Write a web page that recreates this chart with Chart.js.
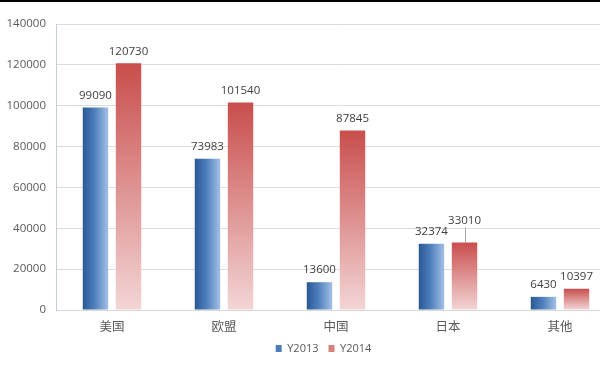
<!DOCTYPE html>
<html>
<head>
<meta charset="utf-8">
<script src="https://cdn.jsdelivr.net/npm/chart.js@4"></script>
<style>
  html, body { margin: 0; padding: 0; background: #fff; }
  #wrap { position: relative; width: 600px; height: 371px; overflow: hidden; }
  #wrap .topline { position: absolute; left: 0; top: 0; width: 600px; height: 2px; background: #000; }
  canvas { position: absolute; left: 0; top: 0; }
</style>
</head>
<body>
<div id="wrap">
  <canvas id="chart" width="647" height="371"></canvas>
  <div class="topline"></div>
</div>
<script>
// 数据
const categories = ['美国', '欧盟', '中国', '日本', '其他'];
const y2013 = [99090, 73983, 13600, 32374, 6430];
const y2014 = [120730, 101540, 87845, 33010, 10397];
const yTicks = [0, 20000, 40000, 60000, 80000, 100000, 120000, 140000];

const FONT = "'Open Sans', 'Noto Sans CJK SC', sans-serif";
const TEXT = '#595959';

// 标签上移 (避免重叠)
const labelLift = { '1-3': 10 };

// 渐变填充
const barGradient = {
    id: 'barGradient',
    beforeDatasetsDraw(chart) {
        const ctx = chart.ctx;
        chart.data.datasets.forEach((ds, di) => {
            chart.getDatasetMeta(di).data.forEach(el => {
                const { x, y, base, width } = el.getProps(['x', 'y', 'base', 'width'], true);
                let g;
                if (di === 0) {
                    g = ctx.createLinearGradient(x - width / 2, 0, x + width / 2, 0);
                    g.addColorStop(0, '#2b5994');
                    g.addColorStop(0.45, '#4d7dbb');
                    g.addColorStop(1, '#a3c0e6');
                } else {
                    g = ctx.createLinearGradient(0, y, 0, base);
                    g.addColorStop(0, '#c84e4c');
                    g.addColorStop(1, '#f3d5d6');
                }
                el.options = Object.assign({}, el.options, { backgroundColor: g });
            });
        });
    }
};

// 数值标签
const valueLabels = {
    id: 'valueLabels',
    afterDatasetsDraw(chart) {
        const ctx = chart.ctx;
        ctx.save();
        ctx.font = '11.5px ' + FONT;
        ctx.fillStyle = '#404040';
        ctx.textAlign = 'center';
        ctx.textBaseline = 'middle';
        chart.data.datasets.forEach((ds, di) => {
            chart.getDatasetMeta(di).data.forEach((el, i) => {
                const lift = labelLift[di + '-' + i] || 0;
                const ty = el.y - 12 - lift;
                ctx.fillText(String(ds.data[i]), el.x, ty);
                if (lift) {
                    ctx.strokeStyle = '#a6a6a6';
                    ctx.lineWidth = 1;
                    ctx.beginPath();
                    ctx.moveTo(Math.round(el.x) + 0.5, ty + 7);
                    ctx.lineTo(Math.round(el.x) + 0.5, el.y);
                    ctx.stroke();
                }
            });
        });
        ctx.restore();
    }
};

new Chart(document.getElementById('chart'), {
    type: 'bar',
    data: {
        labels: categories,
        datasets: [
            { label: 'Y2013', data: y2013, backgroundColor: '#4d7dbb' },
            { label: 'Y2014', data: y2014, backgroundColor: '#d9807e' }
        ]
    },
    options: {
        responsive: false,
        animation: false,
        categoryPercentage: 0.59,
        barPercentage: 0.77,
        layout: { padding: { top: 24, bottom: 7, left: 0, right: 0 } },
        plugins: {
            tooltip: { enabled: false },
            legend: {
                position: 'bottom',
                labels: {
                    boxWidth: 6,
                    boxHeight: 7,
                    padding: 10,
                    color: TEXT,
                    font: { family: FONT, size: 11 }
                }
            }
        },
        scales: {
            x: {
                afterFit(s) { s.height -= 10; },
                grid: { display: false, drawTicks: false },
                border: { color: '#d9d9d9' },
                ticks: {
                    color: TEXT,
                    padding: 9,
                    font: { family: "'Noto Sans CJK SC', sans-serif", size: 12.5 }
                }
            },
            y: {
                min: yTicks[0],
                max: yTicks[yTicks.length - 1],
                afterFit(s) { s.width = 56; },
                afterBuildTicks(s) { s.ticks = yTicks.map(v => ({ value: v })); },
                grid: { color: '#dcdcdc', drawTicks: false },
                border: { color: '#c3ccd8' },
                ticks: {
                    color: TEXT,
                    padding: 10,
                    font: { family: FONT, size: 11.5 },
                    callback: v => String(v)
                }
            },
            y2: {
                position: 'right',
                afterFit(s) { s.width = 31; },
                grid: { display: false, drawTicks: false },
                border: { display: false },
                ticks: { display: false }
            }
        }
    },
    plugins: [barGradient, valueLabels]
});
</script>
</body>
</html>
